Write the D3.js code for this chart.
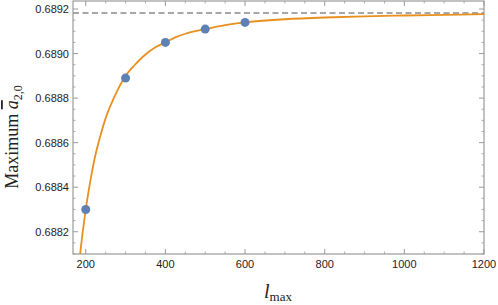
<!DOCTYPE html>
<html><head><meta charset="utf-8">
<script src="https://cdn.jsdelivr.net/npm/d3@7"></script>
<style>body{margin:0;background:#fff}svg{display:block}</style>
</head><body>
<svg id="c" width="498" height="305"></svg>
<script>
const lmaxPoints = [200, 300, 400, 500, 600];
const maxA20 = [0.68830, 0.68889, 0.68905, 0.68911, 0.68914];
const fitX = [185, 190, 200, 212, 225, 240, 250, 260, 280, 300, 320, 350, 375, 400, 425, 450, 500, 550, 600, 700, 800, 900, 1000, 1100, 1200];
const fitY = [0.688084, 0.688163, 0.68830, 0.688433, 0.68855, 0.688651, 0.68871, 0.688757, 0.688836, 0.68890, 0.688943, 0.688996, 0.689028, 0.68905, 0.689073, 0.689089, 0.68911, 0.689128, 0.68914, 0.689154, 0.689162, 0.689167, 0.689171, 0.689174, 0.689177];
const asymptote = 0.689182;
const xTicks = [200, 400, 600, 800, 1000, 1200];
const yTicks = [0.6882, 0.6884, 0.6886, 0.6888, 0.6890, 0.6892];

const L = 73, R = 484, T = 1, B = 254;
const svg = d3.select('#c');
const x = d3.scaleLinear().domain([168, 1200]).range([L, R]);
const y = d3.scaleLinear().domain([0.6881, 0.689236]).range([B, T]);

const frameCol = '#9a9a9a';
const g = svg.append('g');

const xMinor = d3.range(200, 1201, 50).filter(v => v % 200 !== 0);
const yMinor = d3.range(0, 24).map(i => 0.6881 + i * 0.00005).filter(v => v <= 0.68923 && Math.abs((v - 0.6882) / 0.0002 - Math.round((v - 0.6882) / 0.0002)) > 0.01);

function ticks(vals, len, sw) {
  vals.forEach(v => {
    const xv = x(v);
    g.append('line').attr('x1', xv).attr('x2', xv).attr('y1', B).attr('y2', B - len).attr('stroke', frameCol).attr('stroke-width', sw);
    g.append('line').attr('x1', xv).attr('x2', xv).attr('y1', T).attr('y2', T + len).attr('stroke', frameCol).attr('stroke-width', sw);
  });
}
function yticks(vals, len, sw) {
  vals.forEach(v => {
    const yv = y(v);
    g.append('line').attr('y1', yv).attr('y2', yv).attr('x1', L).attr('x2', L + len).attr('stroke', frameCol).attr('stroke-width', sw);
    g.append('line').attr('y1', yv).attr('y2', yv).attr('x1', R).attr('x2', R - len).attr('stroke', frameCol).attr('stroke-width', sw);
  });
}
ticks(xTicks, 5, 1);
ticks(xMinor, 2.5, 0.8);
yticks(yTicks, 5, 1);
yticks(yMinor, 2.5, 0.8);

g.append('rect').attr('x', L).attr('y', T).attr('width', R - L).attr('height', B - T)
  .attr('fill', 'none').attr('stroke', frameCol).attr('stroke-width', 1.2);

svg.selectAll('.xl').data(xTicks).enter().append('text')
  .attr('x', d => x(d)).attr('y', 268).attr('text-anchor', 'middle')
  .attr('font-family', 'Liberation Sans, Arial, sans-serif').attr('font-size', 11).attr('fill', '#222')
  .text(d => d);
svg.selectAll('.yl').data(yTicks).enter().append('text')
  .attr('x', 69).attr('y', d => y(d) + 4).attr('text-anchor', 'end')
  .attr('font-family', 'Liberation Sans, Arial, sans-serif').attr('font-size', 11).attr('fill', '#222')
  .text(d => d.toFixed(4));

svg.append('clipPath').attr('id', 'clip').append('rect').attr('x', L).attr('y', T).attr('width', R - L).attr('height', B - T);
const p = svg.append('g').attr('clip-path', 'url(#clip)');

p.append('line').attr('x1', L).attr('x2', R).attr('y1', y(asymptote)).attr('y2', y(asymptote))
  .attr('stroke', '#8a8a8a').attr('stroke-width', 1.6).attr('stroke-dasharray', '6,3.5');

const fit = fitX.map((v, i) => [v, fitY[i]]);
p.append('path').datum(fit).attr('fill', 'none').attr('stroke', '#E8901F').attr('stroke-width', 1.8)
  .attr('d', d3.line().x(d => x(d[0])).y(d => y(d[1])).curve(d3.curveCatmullRom.alpha(0.5)));

p.selectAll('circle').data(lmaxPoints).enter().append('circle')
  .attr('cx', d => x(d)).attr('cy', (d, i) => y(maxA20[i])).attr('r', 4.5).attr('fill', '#5E81B5');

const yl = svg.append('text').attr('transform', 'translate(18,137) rotate(-90)').attr('text-anchor', 'middle')
  .attr('font-family', 'Liberation Serif, Times New Roman, serif').attr('font-size', 18).attr('fill', '#222');
yl.append('tspan').text('Maximum ');
yl.append('tspan').attr('font-style', 'italic').attr('text-decoration', 'overline').text('a');
yl.append('tspan').attr('font-size', 12).attr('dy', 4).text('2,0');

const xl = svg.append('text').attr('x', 278).attr('y', 298).attr('text-anchor', 'middle')
  .attr('font-family', 'Liberation Serif, Times New Roman, serif').attr('fill', '#222');
xl.append('tspan').attr('font-style', 'italic').attr('font-size', 20).text('l');
xl.append('tspan').attr('font-size', 13).attr('dy', 3).text('max');
</script>
</body></html>
